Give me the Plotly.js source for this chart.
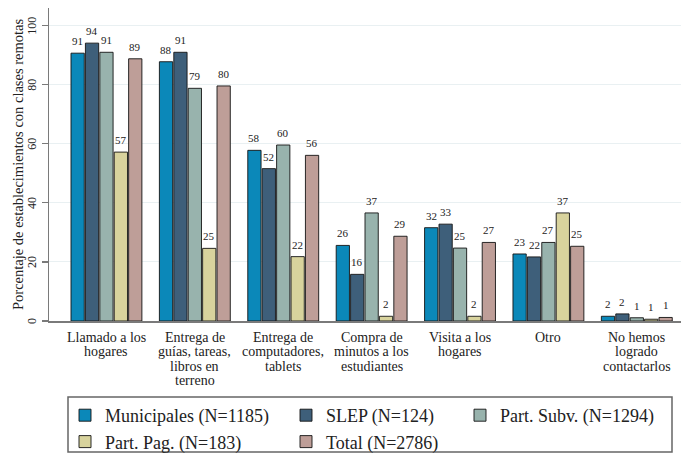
<!DOCTYPE html>
<html>
<head>
<meta charset="utf-8">
<script src="https://cdn.plot.ly/plotly-3.0.1.min.js"></script>
<style>html,body{margin:0;padding:0;background:#fff;}#chart{width:683px;height:454px;}</style>
</head>
<body>
<div id="chart"></div>
<script>
// ---- data ----
var categories = [
  "Llamado a los<br>hogares",
  "Entrega de<br>guías, tareas,<br>libros en<br>terreno",
  "Entrega de<br>computadores,<br>tablets",
  "Compra de<br>minutos a los<br>estudiantes",
  "Visita a los<br>hogares",
  "Otro",
  "No hemos<br>logrado<br>contactarlos"
];
var seriesNames = ["Municipales (N=1185)", "SLEP (N=124)", "Part. Subv. (N=1294)", "Part. Pag. (N=183)", "Total (N=2786)"];
var municipales = [90.7, 87.8, 57.8, 25.6, 31.6, 22.7, 1.6];
var slep        = [94.1, 91.0, 51.6, 15.8, 32.8, 21.7, 2.4];
var partSubv    = [91.0, 78.8, 59.6, 36.6, 24.7, 26.6, 1.1];
var partPag     = [57.2, 24.6, 21.8, 1.6, 1.6, 36.6, 0.6];
var total       = [88.8, 79.6, 56.1, 28.7, 26.6, 25.3, 1.2];
var yTicks = [0, 20, 40, 60, 80, 100];
var yTitle = "Porcentaje de establecimientos con clases remotas";

// ---- style ----
var colors = ["#0B88B9", "#3E5F7A", "#98B3AD", "#D8D39D", "#BE9E98"];
var legendIds = ["legend", "legend2", "legend3", "legend", "legend2"];
var allSeries = [municipales, slep, partSubv, partPag, total];
var serif = "'Liberation Serif', 'Times New Roman', 'DejaVu Serif', serif";

var W = 683, H = 454;
var mL = 49, mR = 2, mT = 8, mB = 133;
var xRange = [-0.65, 6.5];
var bargap = 0.185;
var plotW = W - mL - mR, plotH = H - mT - mB;
var pxPerCat = plotW / (xRange[1] - xRange[0]);
var slot = pxPerCat * (1 - bargap) / 5;

var traces = allSeries.map(function (vals, i) {
  return {
    type: "bar",
    name: seriesNames[i],
    x: categories,
    y: vals,
    legend: legendIds[i],
    marker: { color: colors[i], line: { color: "rgba(20,20,20,0.9)", width: 1 } },
    hoverinfo: "x+y+name"
  };
});

var annotations = [];
// value labels
allSeries.forEach(function (vals, i) {
  vals.forEach(function (v, j) {
    annotations.push({
      x: categories[j], y: v, xref: "x", yref: "y",
      text: String(Math.round(v)), showarrow: false,
      xanchor: "center", yanchor: "bottom",
      xshift: (i - 2) * slot, yshift: 4,
      font: { family: serif, size: 11, color: "#222" }
    });
  });
});
// category labels, one annotation per line
categories.forEach(function (c, j) {
  c.split("<br>").forEach(function (line, k) {
    annotations.push({
      x: categories[j], y: 0, xref: "x", yref: "paper",
      text: line, showarrow: false,
      xanchor: "center", yanchor: "middle",
      yshift: -(16 + k * 14.5),
      font: { family: serif, size: 14, color: "#222" }
    });
  });
});
// y tick labels (rotated, as in the reference)
yTicks.forEach(function (t) {
  annotations.push({
    x: (32 - mL) / plotW, y: t, xref: "paper", yref: "y",
    text: String(t), textangle: -90, showarrow: false,
    xanchor: "center", yanchor: "middle",
    font: { family: serif, size: 12, color: "#222" }
  });
});
// y axis title
annotations.push({
  x: (17.5 - mL) / plotW, y: 0.5, xref: "paper", yref: "paper",
  text: yTitle, textangle: -90, showarrow: false,
  xanchor: "center", yanchor: "middle",
  font: { family: serif, size: 14.5, color: "#222" }
});

function legendCfg(px) {
  return {
    xref: "container", yref: "container",
    x: px / W, y: 1 - 397 / H, xanchor: "left", yanchor: "top",
    orientation: "v", bgcolor: "rgba(0,0,0,0)", borderwidth: 0,
    tracegroupgap: 0, traceorder: "normal",
    font: { family: serif, size: 18, color: "#222" }
  };
}

var layout = {
  width: W, height: H,
  margin: { l: mL, r: mR, t: mT, b: mB, pad: 0, autoexpand: false },
  paper_bgcolor: "#fff", plot_bgcolor: "#fff",
  barmode: "group", bargap: bargap, bargroupgap: 0.08,
  font: { family: serif, color: "#222" },
  showlegend: true,
  xaxis: {
    type: "category", range: xRange, showline: true, linecolor: "#7a7a7a", linewidth: 1.5,
    ticks: "", showticklabels: false, showgrid: false, zeroline: false, fixedrange: true
  },
  yaxis: {
    range: [0, 106], tickvals: yTicks, showticklabels: false,
    ticks: "outside", ticklen: 6, tickcolor: "#7a7a7a", tickwidth: 1.2,
    showline: true, linecolor: "#7a7a7a", linewidth: 1.5,
    gridcolor: "#E9F0F2", gridwidth: 1, zeroline: false
  },
  legend: legendCfg(65),
  legend2: legendCfg(286),
  legend3: legendCfg(460),
  annotations: annotations,
  shapes: [{
    type: "rect", xref: "paper", yref: "paper",
    x0: (68 - mL) / plotW, x1: (672 - mL) / plotW,
    y0: (H - mB - 397) / plotH, y1: (H - mB - 452) / plotH,
    line: { color: "#666", width: 1.5 }, fillcolor: "rgba(0,0,0,0)"
  }]
};

Plotly.newPlot("chart", traces, layout, { displayModeBar: false, staticPlot: true });
</script>
</body>
</html>
